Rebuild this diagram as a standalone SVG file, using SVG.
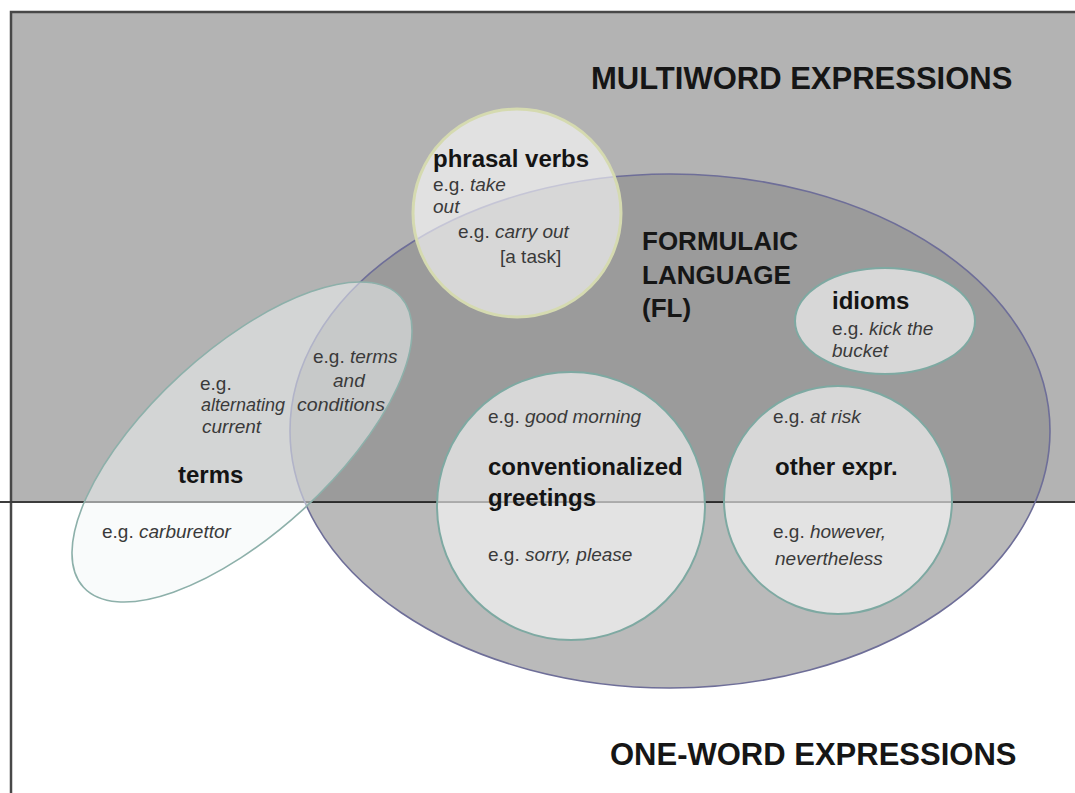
<svg xmlns="http://www.w3.org/2000/svg" width="1075" height="793" viewBox="0 0 1075 793">
  <defs>
    <clipPath id="upper"><rect x="0" y="0" width="1075" height="502"/></clipPath>
    <clipPath id="lower"><rect x="0" y="502" width="1075" height="291"/></clipPath>
    <style>
      text { font-family: "Liberation Sans", Arial, sans-serif; }
      .head { font-size: 31px; font-weight: bold; fill: #161616; }
      .fl { font-size: 26px; font-weight: bold; fill: #161616; }
      .lbl { font-size: 24px; font-weight: bold; fill: #141414; }
      .ex { font-size: 19px; fill: #3a3a3a; }
      .ex tspan.i { font-style: italic; }
      .bubble { fill: #ffffff; fill-opacity: 0.6; stroke: #7ea9a2; stroke-width: 2; }
    </style>
  </defs>

  <!-- page: grey multiword band above, white one-word band below -->
  <g id="background">
    <rect x="0" y="0" width="1075" height="793" fill="#ffffff"/>
    <rect x="11" y="12" width="1070" height="490" fill="#b3b3b3"/>
    <path d="M11 793 V12 H1075" fill="none" stroke="#484848" stroke-width="2.5"/>
    <line x1="0" y1="502" x2="1075" y2="502" stroke="#3c3c3c" stroke-width="2"/>
    <text class="head" x="591" y="89">MULTIWORD EXPRESSIONS</text>
    <text class="head" x="610" y="765">ONE-WORD EXPRESSIONS</text>
  </g>

  <!-- formulaic language: large ellipse straddling both bands -->
  <g id="formulaic-language">
    <ellipse cx="670" cy="431" rx="380" ry="257" fill="#000000" fill-opacity="0.13" clip-path="url(#upper)"/>
    <ellipse cx="670" cy="431" rx="380" ry="257" fill="#000000" fill-opacity="0.27" clip-path="url(#lower)"/>
    <ellipse cx="670" cy="431" rx="380" ry="257" fill="none" stroke="#6e6e98" stroke-width="1.6"/>
    <text class="fl" x="642" y="250">FORMULAIC</text>
    <text class="fl" x="642" y="284">LANGUAGE</text>
    <text class="fl" x="642" y="317">(FL)</text>
  </g>

  <!-- terms -->
  <g id="terms">
    <ellipse cx="242" cy="442" rx="215" ry="91" transform="rotate(-42.5 242 442)" fill="#f4f7f7" fill-opacity="0.5" stroke="#8db0aa" stroke-width="1.6"/>
    <text class="ex" x="200" y="390">e.g.</text>
    <text class="ex" x="201" y="411" textLength="84" lengthAdjust="spacingAndGlyphs"><tspan class="i">alternating</tspan></text>
    <text class="ex" x="202" y="433"><tspan class="i">current</tspan></text>
    <text class="ex" x="313" y="363">e.g. <tspan class="i">terms</tspan></text>
    <text class="ex" x="333" y="387"><tspan class="i">and</tspan></text>
    <text class="ex" x="297" y="411" textLength="88" lengthAdjust="spacingAndGlyphs"><tspan class="i">conditions</tspan></text>
    <text class="lbl" x="178" y="483">terms</text>
    <text class="ex" x="102" y="538">e.g. <tspan class="i">carburettor</tspan></text>
  </g>

  <!-- phrasal verbs -->
  <g id="phrasal-verbs">
    <circle cx="517" cy="213" r="104" fill="#ffffff" fill-opacity="0.6" stroke="#d5dab0" stroke-width="3"/>
    <text class="lbl" x="433" y="167">phrasal verbs</text>
    <text class="ex" x="433" y="191">e.g. <tspan class="i">take</tspan></text>
    <text class="ex" x="433" y="213"><tspan class="i">out</tspan></text>
    <text class="ex" x="458" y="238">e.g. <tspan class="i">carry out</tspan></text>
    <text class="ex" x="500" y="263">[a task]</text>
  </g>

  <!-- idioms -->
  <g id="idioms">
    <ellipse cx="885" cy="321" rx="90" ry="53" class="bubble"/>
    <text class="lbl" x="832" y="309">idioms</text>
    <text class="ex" x="832" y="335">e.g. <tspan class="i">kick the</tspan></text>
    <text class="ex" x="832" y="357"><tspan class="i">bucket</tspan></text>
  </g>

  <!-- conventionalized greetings -->
  <g id="greetings">
    <circle cx="571" cy="506" r="134" class="bubble"/>
    <text class="ex" x="488" y="423">e.g. <tspan class="i">good morning</tspan></text>
    <text class="lbl" x="488" y="475">conventionalized</text>
    <text class="lbl" x="488" y="506">greetings</text>
    <text class="ex" x="488" y="561">e.g. <tspan class="i">sorry, please</tspan></text>
  </g>

  <!-- other expressions -->
  <g id="other-expressions">
    <circle cx="838" cy="500" r="114" class="bubble"/>
    <text class="ex" x="773" y="423">e.g. <tspan class="i">at risk</tspan></text>
    <text class="lbl" x="775" y="475">other expr.</text>
    <text class="ex" x="773" y="538">e.g.  <tspan class="i">however,</tspan></text>
    <text class="ex" x="775" y="565"><tspan class="i">nevertheless</tspan></text>
  </g>
</svg>
